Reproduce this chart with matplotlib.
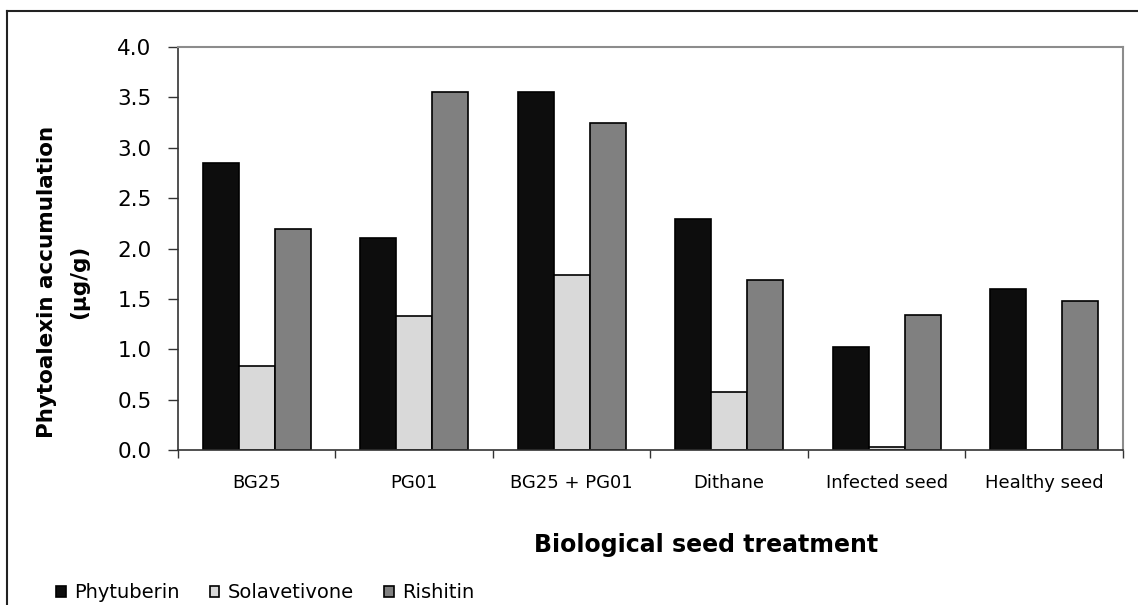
import numpy as np
import matplotlib.pyplot as plt
from matplotlib.lines import Line2D

treatments = ['BG25', 'PG01', 'BG25 + PG01', 'Dithane', 'Infected seed', 'Healthy seed']
phytuberin = [2.85, 2.10, 3.55, 2.29, 1.02, 1.60]
solavetivone = [0.83, 1.33, 1.74, 0.58, 0.03, 0.0]
rishitin = [2.19, 3.55, 3.25, 1.69, 1.34, 1.48]

series = [('Phytuberin', phytuberin, '#0d0d0d'),
          ('Solavetivone', solavetivone, '#d9d9d9'),
          ('Rishitin', rishitin, '#808080')]

fig = plt.figure(figsize=(11.38, 6.05), dpi=100)
ax = fig.add_axes([0.1564, 0.2562, 0.8304, 0.6661])

x = np.arange(len(treatments))
w = 0.2286
for i, (name, vals, col) in enumerate(series):
    ax.bar(x + (i - 1) * w, vals, width=w, color=col, edgecolor='black',
           linewidth=1.2, label=name)

ax.set_xlim(-0.5, len(treatments) - 0.5)
ax.set_ylim(0, 4.0)
yt = np.arange(0, 4.01, 0.5)
ax.set_yticks(yt)
ax.set_yticklabels([f'{v:.1f}' for v in yt], fontsize=15.5)

# ticks on the category boundaries, labels in the middle of each group
ax.set_xticks(np.arange(-0.5, len(treatments)))
ax.set_xticklabels([])
ax.set_xticks(x, minor=True)
ax.set_xticklabels(treatments, minor=True, fontsize=13)
ax.tick_params(axis='x', which='major', direction='out', length=6, width=1, color='#333333')
ax.tick_params(axis='x', which='minor', length=0, pad=17)
ax.tick_params(axis='y', direction='out', length=7, width=1, color='#333333', pad=12)

for s in ['top', 'right']:
    ax.spines[s].set_color('#8c8c8c')
    ax.spines[s].set_linewidth(1.5)
for s in ['left', 'bottom']:
    ax.spines[s].set_color('#333333')
    ax.spines[s].set_linewidth(1.2)

ax.set_ylabel('Phytoalexin accumulation\n(µg/g)', fontsize=15.5, fontweight='bold',
              linespacing=1.75)
ax.yaxis.set_label_coords(-0.094, 0.417)
ax.set_xlabel('Biological seed treatment', fontsize=17, fontweight='bold')
ax.xaxis.set_label_coords(0.559, -0.205)

fig.legend(loc='center left', bbox_to_anchor=(0.041, 0.02), ncol=3, frameon=False,
           fontsize=14, borderpad=0, handlelength=0.48, handleheight=0.48,
           handletextpad=0.45, columnspacing=1.55)

# outer chart border (left and top edges visible)
fig.add_artist(Line2D([0.0062, 0.0062], [0, 0.982], color='#222222', lw=1.5,
                      transform=fig.transFigure))
fig.add_artist(Line2D([0.0062, 1.0], [0.982, 0.982], color='#222222', lw=1.5,
                      transform=fig.transFigure))

fig.savefig('out.png', dpi=100)
